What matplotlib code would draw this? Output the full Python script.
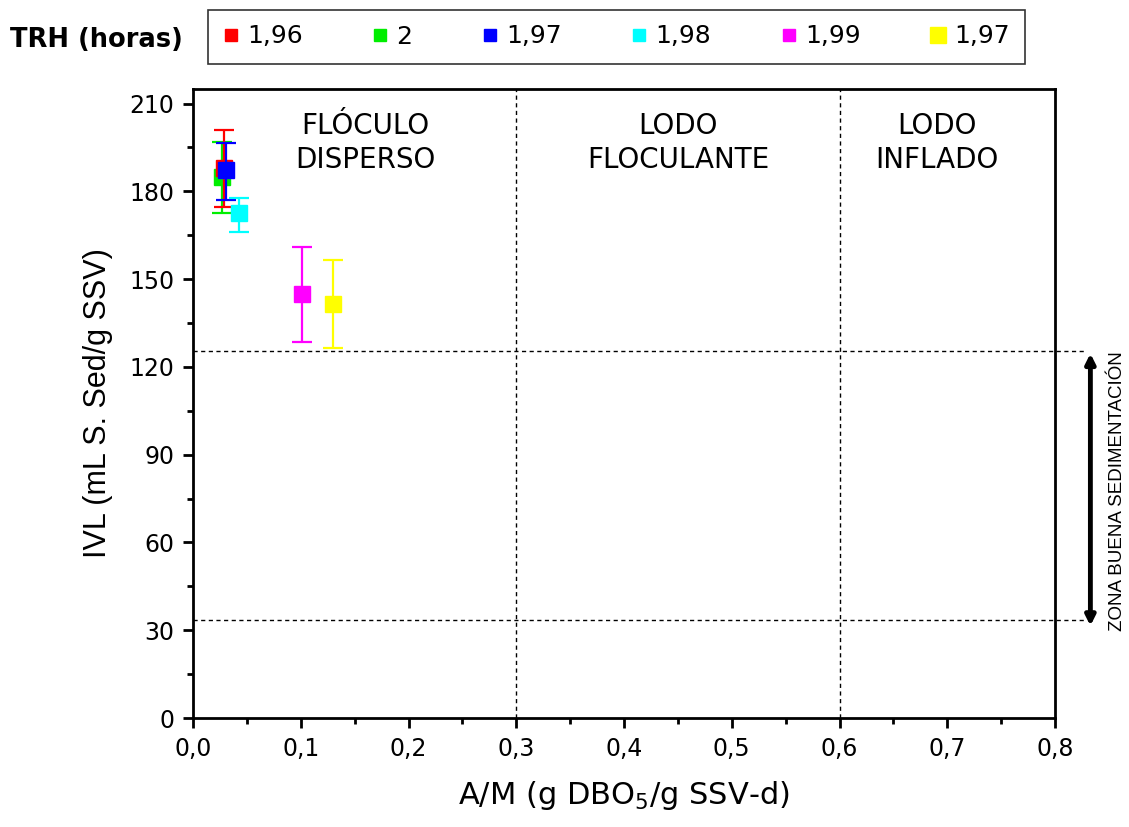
import matplotlib
matplotlib.use("Agg")
import matplotlib.pyplot as plt
from matplotlib.lines import Line2D
from matplotlib.ticker import MultipleLocator, FuncFormatter

plt.rcParams["font.family"] = ["DejaVu Sans"]

# ── Data ──────────────────────────────────────────────────────────────────────

trh_labels = ["1,96", "2", "1,97", "1,98", "1,99", "1,97"]
colors     = ["#ff0000", "#00ee00", "#0000ff", "#00ffff", "#ff00ff", "#ffff00"]

am_ratio   = [0.029, 0.027, 0.031, 0.043, 0.101, 0.130]
ivl_mean   = [188.0, 185.0, 187.4, 172.7, 145.0, 141.6]
ivl_upper  = [201.0, 197.0, 196.7, 177.8, 161.0, 156.6]
ivl_lower  = [174.8, 172.7, 177.0, 166.0, 128.6, 126.5]

zone_limits_am  = [0.3, 0.6]
zone_limits_ivl = [125.6, 33.5]
zone_names = ["FLÓCULO\nDISPERSO", "LODO\nFLOCULANTE", "LODO\nINFLADO"]
zone_name_x = [0.16, 0.45, 0.69]

# ── Figure ────────────────────────────────────────────────────────────────────

fig = plt.figure(figsize=(11.29, 8.27), dpi=100)
ax = fig.add_axes([0.171, 0.1318, 0.7635, 0.7606])

draw_order = [1, 0, 2, 3, 4, 5]
for z, i in enumerate(draw_order):
    yerr = [[ivl_mean[i] - ivl_lower[i]], [ivl_upper[i] - ivl_mean[i]]]
    ax.errorbar([am_ratio[i]], [ivl_mean[i]], yerr=yerr, fmt="s",
                color=colors[i], ms=11, elinewidth=1.6, capsize=7,
                capthick=1.6, zorder=3 + z)

for xv in zone_limits_am:
    ax.axvline(xv, color="black", ls=(0, (3, 2.5)), lw=1.0, zorder=1)
for yv in zone_limits_ivl:
    ax.plot([0, 1.035], [yv, yv], transform=ax.get_yaxis_transform(),
            color="black", ls=(0, (3, 2.5)), lw=1.0, clip_on=False, zorder=1)

for name, xv in zip(zone_names, zone_name_x):
    ax.text(xv, 196.5, name, ha="center", va="center", fontsize=20,
            linespacing=1.3)

ax.set_xlim(0, 0.8)
ax.set_ylim(0, 215)
ax.xaxis.set_major_locator(MultipleLocator(0.1))
ax.xaxis.set_minor_locator(MultipleLocator(0.05))
ax.yaxis.set_major_locator(MultipleLocator(30))
ax.yaxis.set_minor_locator(MultipleLocator(15))
ax.xaxis.set_major_formatter(FuncFormatter(lambda v, p: f"{v:.1f}".replace(".", ",")))
ax.tick_params(which="major", direction="out", length=7.5, width=2, labelsize=17, pad=6)
ax.tick_params(which="minor", direction="out", length=4, width=2)
for s in ax.spines.values():
    s.set_linewidth(2)

ax.set_ylabel("IVL (mL S. Sed/g SSV)", fontsize=22, labelpad=12,
              family="Liberation Sans")
ax.set_xlabel("A/M (g DBO$_5$/g SSV-d)", fontsize=22, labelpad=13)

# ── Good settling zone arrow ──────────────────────────────────────────────────

ax.annotate("", xy=(1.041, zone_limits_ivl[1] - 2), xytext=(1.041, zone_limits_ivl[0] - 1),
            xycoords=ax.get_yaxis_transform(), textcoords=ax.get_yaxis_transform(),
            arrowprops=dict(arrowstyle="<|-|>", color="black", lw=3.5,
                            mutation_scale=14, shrinkA=0, shrinkB=0),
            annotation_clip=False)
ax.text(1.073, (zone_limits_ivl[0] + zone_limits_ivl[1]) / 2 - 2,
        "ZONA BUENA SEDIMENTACIÓN", transform=ax.get_yaxis_transform(),
        rotation=90, ha="center", va="center", fontsize=13.5,
        family="Liberation Sans")

# ── Legend ────────────────────────────────────────────────────────────────────

handles = [Line2D([], [], marker="s", ls="none", color=c,
                  ms=(12 if i == 5 else 9)) for i, c in enumerate(colors)]
leg = fig.legend(handles, trh_labels, ncol=6, loc="center",
                 bbox_to_anchor=(208 / 1129, 1 - 68 / 827, 817 / 1129, 63 / 827),
                 mode="expand", frameon=True, fancybox=False, edgecolor="black",
                 borderaxespad=0, handlelength=0.6, handletextpad=0.35,
                 borderpad=0.6, fontsize=18)
leg.get_frame().set_linewidth(1.2)
fig.text(10 / 1129, 1 - 40 / 827, "TRH (horas)", fontsize=18.5,
         fontweight="bold", va="center", ha="left")

fig.savefig("out.png", dpi=100)
